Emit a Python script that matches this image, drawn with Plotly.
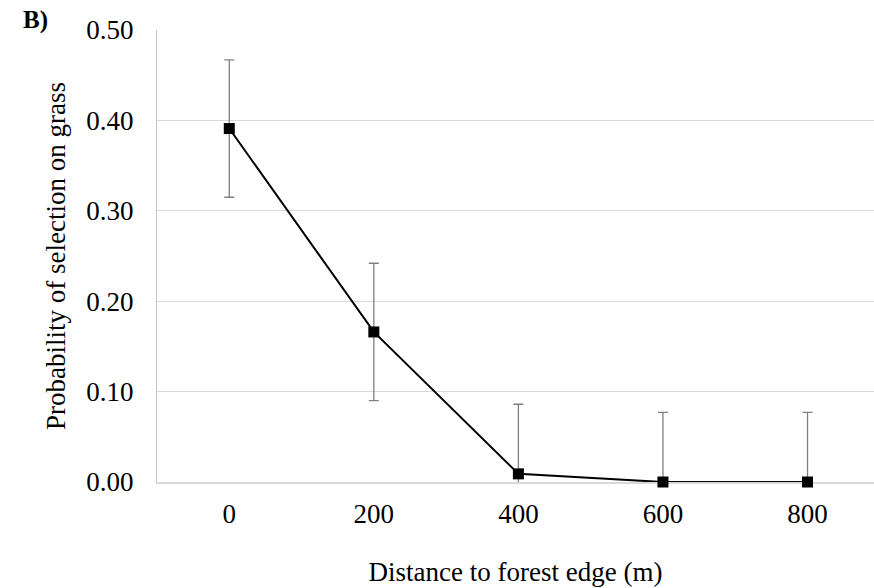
import plotly.graph_objects as go

# Probability of selection on grass by distance to forest edge
distance = ["0", "200", "400", "600", "800"]
probability = [0.391, 0.166, 0.009, 0.0, 0.0]
error = [0.076, 0.076, 0.077, 0.077, 0.077]

FONT = "Liberation Serif"
GRID = "#d9d9d9"

fig = go.Figure()

# error bars, clipped at the plot area so lower whiskers stop at zero
fig.add_trace(go.Scatter(
    x=distance,
    y=probability,
    mode="markers",
    marker=dict(size=1, color="rgba(0,0,0,0)"),
    error_y=dict(
        type="data",
        array=error,
        color="#808080",
        thickness=1.3,
        width=5,
    ),
    cliponaxis=True,
    showlegend=False,
    hoverinfo="skip",
))

# mean line with square markers
fig.add_trace(go.Scatter(
    x=distance,
    y=probability,
    mode="lines+markers",
    line=dict(color="black", width=2),
    marker=dict(symbol="square", size=11, color="black"),
    cliponaxis=False,
    showlegend=False,
))

fig.update_layout(
    width=874,
    height=588,
    margin=dict(l=157, r=0, t=30, b=106),
    paper_bgcolor="white",
    plot_bgcolor="white",
    font=dict(family=FONT, size=27, color="black"),
    xaxis=dict(
        type="category",
        range=[-0.5, 4.46],
        showgrid=False,
        showline=True,
        linecolor=GRID,
        linewidth=1.5,
        layer="below traces",
        ticks="",
        ticklabelstandoff=7,
        tickfont=dict(family=FONT, size=27),
        title=dict(text="Distance to forest edge (m)", standoff=34,
                   font=dict(family=FONT, size=27)),
        zeroline=False,
    ),
    yaxis=dict(
        range=[0, 0.5],
        tickvals=[0, 0.1, 0.2, 0.3, 0.4, 0.5],
        ticktext=["0.00", "0.10", "0.20", "0.30", "0.40", "0.50"],
        showgrid=True,
        gridcolor=GRID,
        gridwidth=1.3,
        showline=True,
        linecolor="#c8c8c8",
        linewidth=1,
        layer="below traces",
        zeroline=False,
        ticks="",
        ticklabelstandoff=17,
        tickfont=dict(family=FONT, size=27),
        title=dict(text="Probability of selection on grass", standoff=12,
                   font=dict(family=FONT, size=27)),
    ),
)

fig.add_annotation(
    text="<b>B)</b>",
    xref="paper", yref="paper",
    x=-157 / 717 + 21 / 717, y=1 + 10 / 452,
    xanchor="left", yanchor="middle",
    showarrow=False,
    font=dict(family=FONT, size=25, color="black"),
)

fig.write_html("out.html")
